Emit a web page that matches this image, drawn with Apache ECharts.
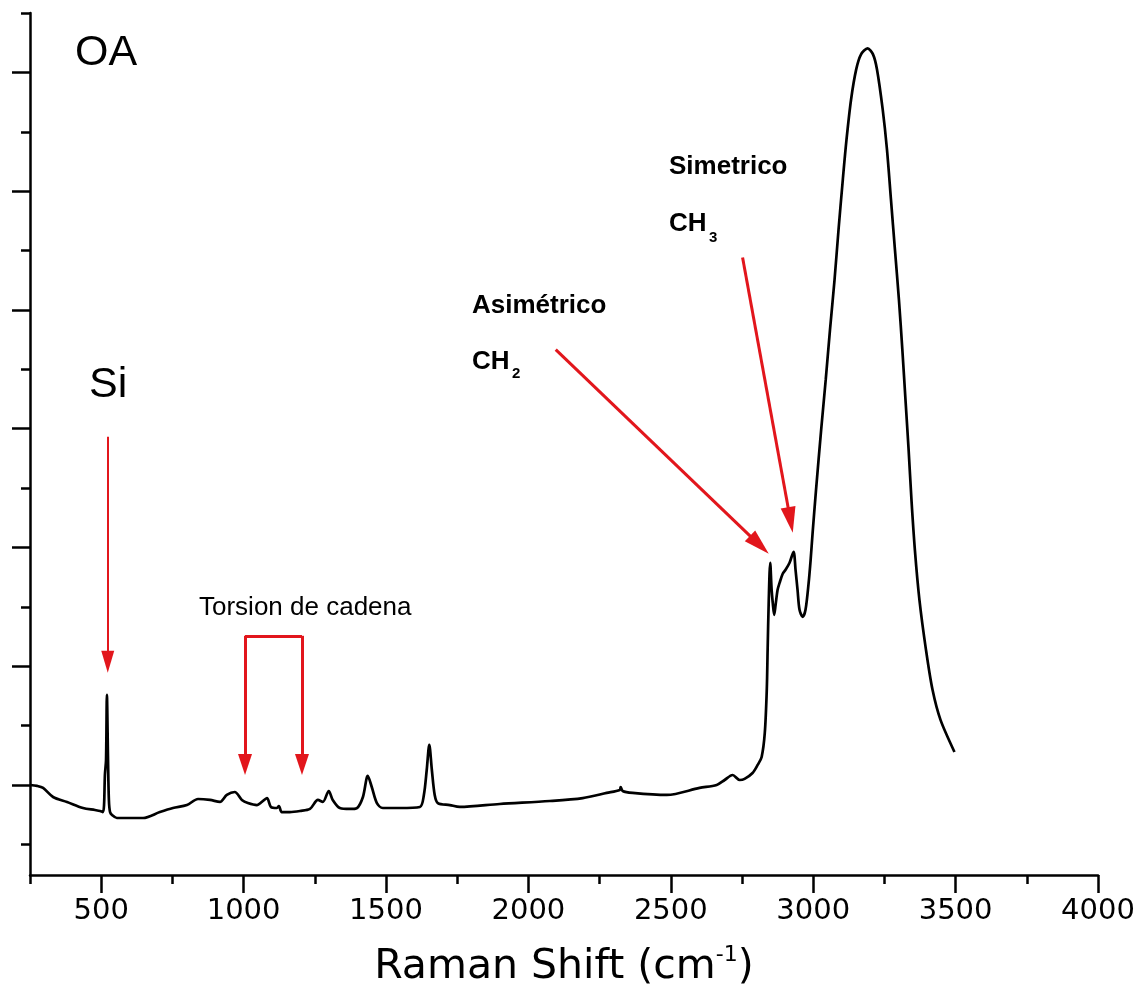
<!DOCTYPE html>
<html><head><meta charset="utf-8">
<script src="https://cdn.jsdelivr.net/npm/echarts@6/dist/echarts.min.js"></script>
<style>html,body{margin:0;padding:0;background:#fff}#c{width:1142px;height:1001px}</style>
</head><body><div id="c"></div>
<script>
// Raman spectrum (cm^-1) and intensity (arbitrary units)
const ramanShift = [250, 275, 296, 331, 380, 436, 478, 496, 506, 510,
  513, 517, 520, 524, 527, 531, 538, 555, 601, 647,
  706, 752, 801, 840, 882, 917, 941, 969, 994, 1015,
  1047, 1064, 1082, 1096, 1117, 1124, 1134, 1162, 1198, 1233,
  1261, 1278, 1299, 1313, 1338, 1373, 1398, 1419, 1436, 1450,
  1468, 1489, 1549, 1619, 1633, 1643, 1652, 1661, 1671, 1682,
  1724, 1759, 1899, 2075, 2191, 2275, 2321, 2324, 2331, 2366,
  2486, 2601, 2661, 2689, 2717, 2742, 2759, 2787, 2805, 2819,
  2830, 2837, 2840, 2844, 2849, 2854, 2858, 2863, 2868, 2875,
  2882, 2893, 2903, 2917, 2931, 2938, 2945, 2952, 2963, 2973,
  2984, 2991, 2998, 3010, 3028, 3044, 3059, 3075, 3089, 3104,
  3117, 3133, 3151, 3168, 3191, 3210, 3224, 3244, 3259, 3273,
  3287, 3301, 3313, 3324, 3335, 3345, 3357, 3373, 3396, 3419,
  3447, 3496];
const intensity = [1000, 992, 975, 899, 857, 806, 789, 781, 772, 831,
  1084, 1211, 1758, 1211, 874, 772, 747, 722, 722, 722,
  772, 806, 831, 882, 874, 857, 916, 941, 874, 848,
  831, 857, 890, 815, 806, 823, 772, 772, 781, 798,
  874, 857, 949, 874, 806, 798, 806, 899, 1076, 983,
  848, 806, 806, 815, 916, 1126, 1337, 1126, 916, 848,
  831, 815, 840, 865, 890, 933, 958, 983, 949, 933,
  916, 975, 1000, 1042, 1084, 1042, 1051, 1101, 1169, 1236,
  1438, 1801, 2138, 2559, 2871, 2643, 2534, 2433, 2517, 2643,
  2702, 2778, 2812, 2871, 2963, 2812, 2643, 2475, 2416, 2475,
  2702, 2896, 3124, 3486, 3992, 4413, 4834, 5256, 5677, 6098,
  6435, 6772, 7025, 7152, 7202, 7152, 7025, 6688, 6351, 5930,
  5508, 5087, 4666, 4244, 3823, 3402, 2980, 2559, 2138, 1801,
  1548, 1278];

const xMajorTicks = [500, 1000, 1500, 2000, 2500, 3000, 3500, 4000];
const xMinorTicks = [250, 750, 1250, 1750, 2250, 2750, 3250, 3750];
const yMajorTicks = [1000, 2000, 3000, 4000, 5000, 6000, 7000];
const yMinorTicks = [500, 1500, 2500, 3500, 4500, 5500, 6500, 7500];

// annotation arrows in data coordinates [shift, intensity]
const siArrow = [[523, 3933], [523, 2037]];
const torsionLeft = [[1005, 2256], [1005, 1173]];
const torsionRight = [[1205, 2256], [1205, 1173]];
const ch2Arrow = [[2096, 4666], [2811, 3022]];
const ch3Arrow = [[2752, 5441], [2920, 3231]];

const RED = '#e2161c';
const seriesData = ramanShift.map((x, i) => [x, intensity[i]]);

function arrow(pts, width, head) {
  return [
    {coord: pts[0], symbol: 'none', lineStyle: {width: width, color: RED, type: 'solid'}},
    {coord: pts[1], symbol: 'triangle', symbolSize: head}
  ];
}

const chart = echarts.init(document.getElementById('c'), null, {renderer: 'canvas'});
const axisLineStyle = {color: '#000', width: 2.5};
chart.setOption({
  animation: false,
  backgroundColor: '#fff',
  grid: {left: 30, right: 44, top: 13, bottom: 126, containLabel: false},
  xAxis: [{
    type: 'value', min: 250, max: 4000, position: 'bottom',
    axisLine: {show: true, onZero: false, lineStyle: axisLineStyle},
    axisTick: {show: true, inside: false, length: 18, customValues: xMajorTicks, lineStyle: axisLineStyle},
    axisLabel: {show: true, customValues: xMajorTicks, margin: 22, color: '#000',
      fontFamily: 'DejaVu Sans', fontSize: 29, formatter: v => String(v)},
    splitLine: {show: false},
    name: '{n|Raman Shift (cm}{s|-1}{n|)}',
    nameLocation: 'middle', nameGap: 69,
    nameTextStyle: {
      rich: {
        n: {fontFamily: 'DejaVu Sans', fontSize: 41, color: '#000', lineHeight: 46},
        s: {fontFamily: 'DejaVu Sans', fontSize: 22, color: '#000', verticalAlign: 'top', lineHeight: 46}
      }
    }
  }, {
    type: 'value', min: 250, max: 4000, position: 'bottom',
    axisLine: {show: false, onZero: false},
    axisTick: {show: true, inside: false, length: 9, customValues: xMinorTicks, lineStyle: axisLineStyle},
    axisLabel: {show: false, customValues: xMinorTicks},
    splitLine: {show: false}
  }],
  yAxis: [{
    type: 'value', min: 242, max: 7500, position: 'left',
    axisLine: {show: true, onZero: false, lineStyle: axisLineStyle},
    axisTick: {show: true, inside: false, length: 18, customValues: yMajorTicks, lineStyle: axisLineStyle},
    axisLabel: {show: false, customValues: yMajorTicks},
    splitLine: {show: false}
  }, {
    type: 'value', min: 242, max: 7500, position: 'left',
    axisLine: {show: false, onZero: false},
    axisTick: {show: true, inside: false, length: 9, customValues: yMinorTicks, lineStyle: axisLineStyle},
    axisLabel: {show: false, customValues: yMinorTicks},
    splitLine: {show: false}
  }],
  series: [{
    type: 'line', xAxisIndex: 0, yAxisIndex: 0,
    data: seriesData, showSymbol: false, smooth: 0.3,
    lineStyle: {color: '#000', width: 2.7},
    markLine: {
      silent: true, animation: false, precision: 4,
      label: {show: false},
      lineStyle: {color: RED, type: 'solid'},
      itemStyle: {color: RED},
      symbol: ['none', 'triangle'],
      data: [
        arrow(siArrow, 2, [13, 22]),
        [{coord: [torsionLeft[0][0], torsionLeft[0][1]], symbol: 'none', lineStyle: {width: 3, color: RED, type: 'solid'}},
         {coord: [torsionRight[0][0], torsionRight[0][1]], symbol: 'none'}],
        arrow(torsionLeft, 3, [14, 21]),
        arrow(torsionRight, 3, [14, 21]),
        arrow(ch2Arrow, 3, [15, 26]),
        arrow(ch3Arrow, 3, [15, 26])
      ]
    }
  }],
  graphic: [
    {type: 'text', x: 75, y: 53, style: {text: 'OA', fill: '#000', font: '43px "Liberation Sans", Arial', align: 'left', verticalAlign: 'middle'}},
    {type: 'text', x: 89, y: 385, style: {text: 'Si', fill: '#000', font: '43px "Liberation Sans", Arial', align: 'left', verticalAlign: 'middle'}},
    {type: 'text', x: 199, y: 608, style: {text: 'Torsion de cadena', fill: '#000', font: '26px "Liberation Sans", Arial', align: 'left', verticalAlign: 'middle'}},
    {type: 'text', x: 669, y: 167, style: {text: 'Simetrico', fill: '#000', font: 'bold 26px "Liberation Sans", Arial', align: 'left', verticalAlign: 'middle'}},
    {type: 'text', x: 669, y: 224, style: {text: 'CH', fill: '#000', font: 'bold 26px "Liberation Sans", Arial', align: 'left', verticalAlign: 'middle'}},
    {type: 'text', x: 709, y: 238, style: {text: '3', fill: '#000', font: 'bold 15px "Liberation Sans", Arial', align: 'left', verticalAlign: 'middle'}},
    {type: 'text', x: 472, y: 306, style: {text: 'Asimétrico', fill: '#000', font: 'bold 26px "Liberation Sans", Arial', align: 'left', verticalAlign: 'middle'}},
    {type: 'text', x: 472, y: 362, style: {text: 'CH', fill: '#000', font: 'bold 26px "Liberation Sans", Arial', align: 'left', verticalAlign: 'middle'}},
    {type: 'text', x: 512, y: 374, style: {text: '2', fill: '#000', font: 'bold 15px "Liberation Sans", Arial', align: 'left', verticalAlign: 'middle'}}
  ]
});
</script>
</body></html>
